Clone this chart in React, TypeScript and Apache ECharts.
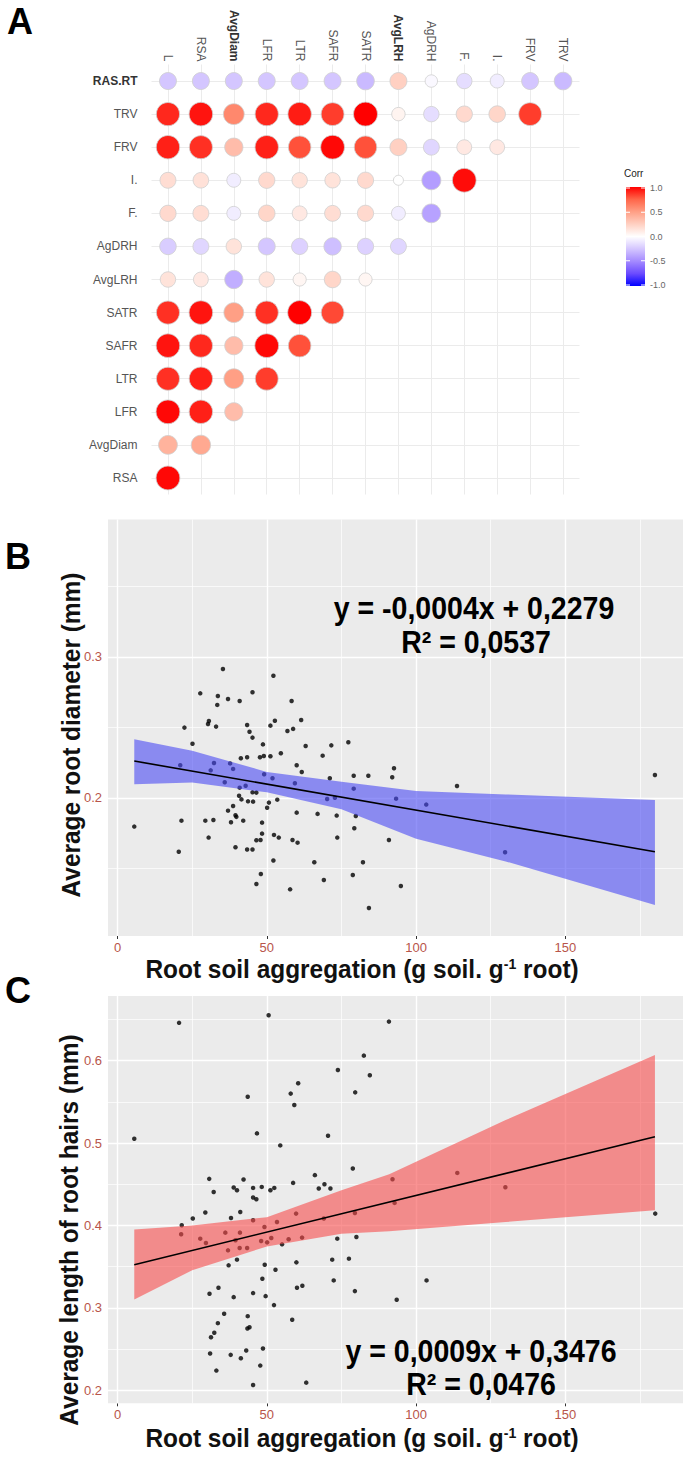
import React, { useEffect, useRef } from 'react';
import * as echarts from 'echarts';

// ---------- Panel A: correlation matrix ----------
const corrCols = ['L', 'RSA', 'AvgDiam', 'LFR', 'LTR', 'SAFR', 'SATR', 'AvgLRH', 'AgDRH', 'F.', 'I.', 'FRV', 'TRV'];
const corrRows = ['RAS.RT', 'TRV', 'FRV', 'I.', 'F.', 'AgDRH', 'AvgLRH', 'SATR', 'SAFR', 'LTR', 'LFR', 'AvgDiam', 'RSA'];
const corrValues: number[][] = [
  [-0.25, -0.25, -0.25, -0.25, -0.25, -0.25, -0.3, 0.25, -0.03, -0.15, -0.08, -0.25, -0.3],
  [0.9, 0.95, 0.6, 0.9, 0.93, 0.85, 1.0, 0.06, -0.15, 0.2, 0.22, 0.85],
  [0.92, 0.88, 0.35, 0.92, 0.8, 0.98, 0.8, 0.25, -0.18, 0.12, 0.12],
  [0.18, 0.16, -0.08, 0.2, 0.15, 0.15, 0.2, 0.0, -0.42, 0.97],
  [0.2, 0.18, -0.08, 0.22, 0.12, 0.18, 0.2, -0.08, -0.4],
  [-0.22, -0.18, 0.15, -0.25, -0.2, -0.28, -0.2, -0.18],
  [0.15, 0.12, -0.35, 0.15, 0.05, 0.22, 0.05],
  [0.88, 0.95, 0.5, 0.88, 1.0, 0.82],
  [0.95, 0.9, 0.35, 0.98, 0.8],
  [0.88, 0.92, 0.5, 0.85],
  [0.98, 0.92, 0.35],
  [0.4, 0.45],
  [0.98],
];
const boldColLabels = ['AvgDiam', 'AvgLRH'];
const boldRowLabels = ['RAS.RT'];
const corrPalette = ['#0000FF', '#6B4BFF', '#A48AFF', '#D4C6FF', '#FFFFFF', '#FFD0C2', '#FF9F85', '#FF6549', '#FF0000'];
const corrLegendTicks = ['1.0', '0.5', '0.0', '-0.5', '-1.0'];

// ---------- Panel B: average root diameter ----------
const rsaB = [35.3, 52.2, 27.7, 33.6, 37.0, 40.9, 45.2, 58.3, 33.4, 22.4, 30.6, 30.3, 33.0, 43.4, 44.2, 45.2, 51.2, 52.7, 56.9, 58.8,
  61.5, 25.1, 48.7, 41.3, 43.4, 47.7, 49.0, 51.2, 54.7, 63.0, 68.7, 71.6, 77.3, 21.0, 32.3, 31.2, 37.7, 38.7, 35.9, 49.1,
  51.9, 60.0, 61.7, 59.4, 40.9, 42.9, 45.2, 46.5, 40.7, 41.5, 43.7, 45.4, 50.7, 50.1, 53.5, 71.1, 70.2, 72.8, 79.1, 84.0,
  79.1, 38.7, 37.0, 39.5, 39.8, 38.0, 42.1, 60.0, 67.0, 73.4, 79.8, 5.6, 21.4, 29.4, 32.1, 48.4, 79.3, 30.5, 48.4, 46.5,
  47.9, 52.4, 54.0, 58.6, 60.3, 73.6, 90.9, 20.5, 39.5, 43.4, 45.2, 52.2, 65.9, 82.2, 48.0, 69.1, 78.8, 46.5, 57.8,
  92.6, 92.0, 113.7, 93.3, 103.4, 129.8, 94.9, 180.0, 84.2];
const diamB = [0.2915, 0.2867, 0.2742, 0.2723, 0.2702, 0.2688, 0.275, 0.2688, 0.266, 0.2499, 0.2546, 0.2525, 0.2506, 0.2518, 0.247, 0.2428, 0.2513, 0.2548, 0.2475, 0.249,
  0.2553, 0.2385, 0.238, 0.2282, 0.2289, 0.2289, 0.2298, 0.2296, 0.2317, 0.2369, 0.23, 0.2373, 0.2395, 0.2232, 0.2248, 0.2196, 0.2245, 0.2206, 0.2111, 0.2168,
  0.214, 0.2232, 0.2184, 0.2104, 0.2073, 0.2087, 0.204, 0.2038, 0.2016, 0.199, 0.1976, 0.1974, 0.1967, 0.1931, 0.1988, 0.214, 0.1993, 0.2002, 0.2158, 0.2158,
  0.2066, 0.1943, 0.191, 0.1877, 0.1866, 0.1828, 0.1839, 0.1896, 0.1887, 0.1875, 0.1872, 0.1797, 0.1839, 0.1839, 0.1844, 0.1825, 0.1785, 0.1719, 0.1747, 0.17,
  0.1702, 0.1738, 0.1719, 0.1702, 0.1683, 0.1719, 0.1702, 0.1619, 0.165, 0.1634, 0.1634, 0.1556, 0.1544, 0.1544, 0.1461, 0.1418, 0.1454, 0.139, 0.1352,
  0.2211, 0.2147, 0.2085, 0.1995, 0.1953, 0.1615, 0.1376, 0.2163, 0.122];
const bandXB = [5.6, 25, 50, 75, 100, 130, 180];
const bandLowB = [0.2097, 0.211, 0.204, 0.192, 0.171, 0.155, 0.124];
const bandHighB = [0.2416, 0.2335, 0.2185, 0.2115, 0.205, 0.2025, 0.1986];
const fitXB = [5.6, 180];
const fitYB = [0.2262, 0.1619];
const yMajorB = [0.2, 0.3];
const yMinorB = [0.15, 0.25, 0.35];

// ---------- Panel C: average length of root hairs ----------
const rsaC = [20.6, 50.6, 90.9, 82.5, 73.8, 84.5, 60.5, 58.0, 59.2, 43.6, 79.6, 5.6, 46.7, 54.5, 70.5, 66.1, 78.8,
  30.7, 42.2, 32.2, 38.9, 40.0, 45.4, 48.3, 51.2, 52.5, 58.8, 67.4, 69.3, 71.3, 45.4, 46.5, 29.4, 25.2, 41.1, 38.0, 45.4,
  21.5, 49.2, 53.4, 59.8, 69.1, 79.5, 21.3, 27.7, 29.6, 36.1, 41.0, 39.5, 37.0, 40.9, 43.4, 48.1, 50.1, 51.5, 55.1, 57.3,
  61.8, 73.6, 80.0, 37.2, 40.0, 49.3, 52.9, 59.9, 71.9, 77.5, 48.5, 72.4, 33.8, 30.8, 38.9, 45.4, 49.6, 60.1, 61.9, 79.5,
  52.4, 35.7, 43.6, 58.5, 33.6, 44.2, 43.5, 32.4, 31.3, 31.0, 37.9, 41.3, 43.1, 48.7, 47.8, 33.1, 45.4, 63.2,
  92.1, 113.8, 92.8, 129.9, 180.1, 103.5, 93.5];
const lrhC = [0.6459, 0.6552, 0.6474, 0.6061, 0.5887, 0.5822, 0.5725, 0.56, 0.5461, 0.5562, 0.5615, 0.5051, 0.5117, 0.4971, 0.5088, 0.461, 0.4691,
  0.4565, 0.4557, 0.4406, 0.446, 0.4427, 0.4455, 0.4467, 0.4427, 0.4455, 0.4516, 0.4448, 0.45, 0.4448, 0.4338, 0.4318, 0.4156, 0.4083, 0.4163, 0.409, 0.4062,
  0.4001, 0.398, 0.4041, 0.4143, 0.4083, 0.4151, 0.3892, 0.3839, 0.3786, 0.3912, 0.3912, 0.3819, 0.3697, 0.3725, 0.3725, 0.381, 0.3794, 0.3847, 0.377, 0.3831,
  0.3852, 0.3839, 0.3859, 0.3515, 0.3584, 0.3523, 0.3462, 0.3551, 0.3584, 0.3596, 0.3353, 0.3332, 0.3243, 0.317, 0.3129, 0.3178, 0.3141, 0.3243, 0.3268, 0.3202,
  0.3032, 0.2927, 0.2898, 0.2854, 0.2813, 0.2764, 0.2748, 0.2696, 0.2642, 0.2444, 0.2428, 0.2387, 0.2481, 0.2505, 0.2298, 0.2237, 0.2063, 0.2091,
  0.456, 0.4637, 0.4273, 0.4463, 0.4143, 0.3332, 0.3097];
const bandXC = [5.6, 25, 50, 75, 91, 130, 180];
const bandLowC = [0.31, 0.3454, 0.3744, 0.39, 0.393, 0.4041, 0.4184];
const bandHighC = [0.395, 0.4, 0.41, 0.4427, 0.462, 0.5279, 0.607];
const fitXC = [5.6, 180];
const fitYC = [0.3523, 0.5075];
const yMajorC = [0.2, 0.3, 0.4, 0.5, 0.6];
const yMinorC = [0.25, 0.35, 0.45, 0.55, 0.65];

const xMajor = [0, 50, 100, 150];
const xMinor = [25, 75, 125, 175];

const SANS = "'Liberation Sans', Arial, sans-serif";
const TICK_COLOR = '#B8554A';

function gridLines(xs: number[], ys: number[], width: number) {
  return [
    ...xs.map((v) => ({ xAxis: v, lineStyle: { color: '#FFFFFF', width, type: 'solid' } })),
    ...ys.map((v) => ({ yAxis: v, lineStyle: { color: '#FFFFFF', width, type: 'solid' } })),
  ];
}

function bandSeries(idx: number, bx: number[], lo: number[], hi: number[], fill: string) {
  return {
    type: 'custom',
    xAxisIndex: idx,
    yAxisIndex: idx,
    z: 4,
    silent: true,
    data: [[bx[0], lo[0]]],
    encode: { x: 0, y: 1 },
    renderItem: (_params: any, api: any) => {
      const pts: number[][] = [];
      for (let i = 0; i < bx.length; i++) pts.push(api.coord([bx[i], lo[i]]));
      for (let i = bx.length - 1; i >= 0; i--) pts.push(api.coord([bx[i], hi[i]]));
      return { type: 'polygon', shape: { points: pts }, style: { fill, stroke: 'none' } };
    },
  };
}

function valueX(idx: number) {
  return {
    type: 'value',
    gridIndex: idx,
    min: -3.2,
    max: 189.4,
    axisLine: { show: false },
    splitLine: { show: false },
    axisTick: { show: true, customValues: xMajor, length: 3, lineStyle: { color: '#333', width: 1 } },
    axisLabel: { customValues: xMajor, color: TICK_COLOR, fontSize: 13, margin: 5, fontFamily: SANS },
  };
}

function valueY(idx: number, min: number, max: number, major: number[]) {
  return {
    type: 'value',
    gridIndex: idx,
    min,
    max,
    axisLine: { show: false },
    splitLine: { show: false },
    axisTick: { show: true, customValues: major, length: 3, lineStyle: { color: '#333', width: 1 } },
    axisLabel: {
      customValues: major,
      color: TICK_COLOR,
      fontSize: 13,
      margin: 6,
      fontFamily: SANS,
      formatter: (v: number) => v.toFixed(1),
    },
  };
}

function buildOption() {
  const corrData: any[] = [];
  corrValues.forEach((row, r) => {
    row.forEach((v, c) => corrData.push([corrCols[c], corrRows[r], v]));
  });

  const gradStops = corrPalette
    .slice()
    .reverse()
    .map((color, i) => ({ offset: i / (corrPalette.length - 1), color }));

  const legendTop = 187;
  const legendH = 99;
  const legendGraphics: any[] = [
    { type: 'text', left: 624, top: 168, style: { text: 'Corr', fontSize: 10, fill: '#222', fontFamily: SANS } },
    {
      type: 'rect',
      shape: { x: 626, y: legendTop, width: 19, height: legendH },
      style: { fill: { type: 'linear', x: 0, y: 0, x2: 0, y2: 1, colorStops: gradStops } },
    },
  ];
  corrLegendTicks.forEach((t, i) => {
    const y = legendTop + 1 + (i * (legendH - 2)) / (corrLegendTicks.length - 1);
    legendGraphics.push({ type: 'line', shape: { x1: 626, y1: y, x2: 630, y2: y }, style: { stroke: '#fff', lineWidth: 1 } });
    legendGraphics.push({ type: 'line', shape: { x1: 641, y1: y, x2: 645, y2: y }, style: { stroke: '#fff', lineWidth: 1 } });
    legendGraphics.push({
      type: 'text',
      x: 650,
      y,
      style: { text: t, fontSize: 9, fill: '#666', fontFamily: SANS, verticalAlign: 'middle', textAlign: 'left' },
    });
  });

  const xTitle = (y: number) => ({
    type: 'text',
    x: 362,
    y,
    scaleX: 0.94,
    style: {
      text: 'Root soil aggregation (g soil. g{sup|-1} root)',
      fontSize: 26,
      fontWeight: 'bold',
      fontFamily: SANS,
      fill: '#111',
      textAlign: 'center',
      verticalAlign: 'middle',
      rich: { sup: { fontSize: 15, fontWeight: 'bold', fontFamily: SANS, verticalAlign: 'top', fill: '#111' } },
    },
  });
  const yTitle = (text: string, x: number, y: number) => ({
    type: 'text',
    x,
    y,
    rotation: Math.PI / 2,
    scaleX: 0.94,
    style: {
      text,
      fontSize: 26,
      fontWeight: 'bold',
      fontFamily: SANS,
      fill: '#111',
      textAlign: 'center',
      verticalAlign: 'middle',
    },
  });
  const eq = (text: string, x: number, y: number) => ({
    type: 'text',
    x,
    y,
    z: 10,
    scaleX: 0.92,
    style: { text, fontSize: 31, fontWeight: 'bold', fontFamily: SANS, fill: '#000', textAlign: 'center', verticalAlign: 'middle' },
  });
  const letter = (text: string, x: number, y: number) => ({
    type: 'text',
    x,
    y,
    style: { text, fontSize: 36, fontWeight: 'bold', fontFamily: SANS, fill: '#000', textAlign: 'left', verticalAlign: 'middle' },
  });

  return {
    animation: false,
    backgroundColor: '#ffffff',
    grid: [
      { left: 151.5, top: 64.5, width: 428, height: 430, show: false },
      { left: 108, top: 519.5, width: 575, height: 416.5, show: true, backgroundColor: '#EBEBEB', borderWidth: 0 },
      { left: 108, top: 996, width: 575, height: 407.3, show: true, backgroundColor: '#EBEBEB', borderWidth: 0 },
    ],
    visualMap: [
      {
        type: 'continuous',
        show: false,
        seriesIndex: 1,
        dimension: 2,
        min: -1,
        max: 1,
        inRange: { color: corrPalette },
      },
    ],
    xAxis: [
      {
        type: 'category',
        gridIndex: 0,
        data: corrCols,
        position: 'top',
        boundaryGap: true,
        axisLine: { show: false },
        axisTick: { show: false },
        splitLine: { show: false },
        axisLabel: {
          rotate: 90,
          margin: 3,
          interval: 0,
          formatter: (v: string) => (boldColLabels.includes(v) ? `{b|${v}}` : `{n|${v}}`),
          rich: {
            n: { fontSize: 12, color: '#555', fontFamily: SANS },
            b: { fontSize: 12, color: '#333', fontWeight: 'bold', fontFamily: SANS },
          },
        },
      },
      valueX(1),
      valueX(2),
    ],
    yAxis: [
      {
        type: 'category',
        gridIndex: 0,
        data: corrRows,
        inverse: true,
        boundaryGap: true,
        axisLine: { show: false },
        axisTick: { show: false },
        splitLine: { show: false },
        axisLabel: {
          margin: 14,
          interval: 0,
          formatter: (v: string) => (boldRowLabels.includes(v) ? `{b|${v}}` : `{n|${v}}`),
          rich: {
            n: { fontSize: 12, color: '#555', fontFamily: SANS },
            b: { fontSize: 12, color: '#333', fontWeight: 'bold', fontFamily: SANS },
          },
        },
      },
      valueY(1, 0.1021, 0.3975, yMajorB),
      valueY(2, 0.184, 0.6785, yMajorC),
    ],
    series: [
      // 0: corr grid lines
      {
        type: 'scatter',
        xAxisIndex: 0,
        yAxisIndex: 0,
        z: 1,
        symbolSize: 0,
        silent: true,
        data: [[corrCols[0], corrRows[0]]],
        markLine: {
          z: 1,
          silent: true,
          symbol: ['none', 'none'],
          label: { show: false },
          lineStyle: { color: '#EBEBEB', width: 1, type: 'solid' },
          data: [...corrCols.map((c) => ({ xAxis: c })), ...corrRows.map((r) => ({ yAxis: r }))],
        },
      },
      // 1: corr circles
      {
        type: 'scatter',
        xAxisIndex: 0,
        yAxisIndex: 0,
        z: 3,
        data: corrData,
        symbolSize: (val: any[]) => 10 + 14 * Math.sqrt(Math.abs(val[2])),
        itemStyle: { borderColor: '#cfcfcf', borderWidth: 0.8, opacity: 1 },
      },
      // 2: B grid
      {
        type: 'scatter',
        xAxisIndex: 1,
        yAxisIndex: 1,
        z: 1,
        symbolSize: 0,
        silent: true,
        data: [[50, 0.2]],
        markLine: {
          z: 1,
          silent: true,
          symbol: ['none', 'none'],
          label: { show: false },
          data: [...gridLines(xMinor, yMinorB, 0.7), ...gridLines(xMajor, yMajorB, 1.4)],
        },
      },
      // 3: B points
      {
        type: 'scatter',
        xAxisIndex: 1,
        yAxisIndex: 1,
        z: 3,
        symbolSize: 4.5,
        itemStyle: { color: '#000' },
        data: rsaB.map((x, i) => [x, diamB[i]]),
      },
      // 4: B band
      bandSeries(1, bandXB, bandLowB, bandHighB, 'rgba(73,73,243,0.6)'),
      // 5: B fit
      {
        type: 'line',
        xAxisIndex: 1,
        yAxisIndex: 1,
        z: 5,
        showSymbol: false,
        symbol: 'none',
        lineStyle: { color: '#000', width: 1.6 },
        data: fitXB.map((x, i) => [x, fitYB[i]]),
      },
      // 6: C grid
      {
        type: 'scatter',
        xAxisIndex: 2,
        yAxisIndex: 2,
        z: 1,
        symbolSize: 0,
        silent: true,
        data: [[50, 0.4]],
        markLine: {
          z: 1,
          silent: true,
          symbol: ['none', 'none'],
          label: { show: false },
          data: [...gridLines(xMinor, yMinorC, 0.7), ...gridLines(xMajor, yMajorC, 1.4)],
        },
      },
      // 7: C points
      {
        type: 'scatter',
        xAxisIndex: 2,
        yAxisIndex: 2,
        z: 3,
        symbolSize: 4.5,
        itemStyle: { color: '#000' },
        data: rsaC.map((x, i) => [x, lrhC[i]]),
      },
      // 8: C band
      bandSeries(2, bandXC, bandLowC, bandHighC, 'rgba(247,75,75,0.6)'),
      // 9: C fit
      {
        type: 'line',
        xAxisIndex: 2,
        yAxisIndex: 2,
        z: 5,
        showSymbol: false,
        symbol: 'none',
        lineStyle: { color: '#000', width: 1.6 },
        data: fitXC.map((x, i) => [x, fitYC[i]]),
      },
    ],
    graphic: [
      letter('A', 7, 21),
      letter('B', 5, 556),
      letter('C', 5, 990),
      ...legendGraphics,
      eq('y = -0,0004x + 0,2279', 474, 608),
      eq('R² = 0,0537', 476, 642),
      eq('y = 0,0009x + 0,3476', 481, 1351),
      eq('R² = 0,0476', 481, 1384),
      xTitle(969),
      xTitle(1438),
      yTitle('Average root diameter (mm)', 71, 735),
      yTitle('Average length of root hairs (mm)', 69, 1230),
    ],
  };
}

export default function App() {
  const ref = useRef<HTMLDivElement>(null);
  useEffect(() => {
    if (!ref.current) return;
    const chart = echarts.init(ref.current, null, { renderer: 'svg' });
    chart.setOption(buildOption() as any);
    return () => chart.dispose();
  }, []);
  return (
    <div
      ref={ref}
      style={{ position: 'absolute', left: 0, top: 0, width: 685, height: 1460, background: '#ffffff' }}
    />
  );
}
